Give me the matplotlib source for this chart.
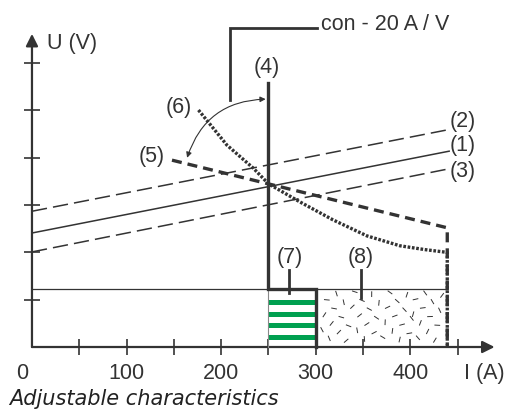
import numpy as np
import matplotlib
matplotlib.use('Agg')
import matplotlib.pyplot as plt

plt.rcParams['font.family'] = ['Liberation Sans', 'DejaVu Sans']

# characteristic lines (current A, voltage in tick units)
line1_x = [0, 441]
line1_y = [2.41, 4.14]
line2_x = [0, 439]
line2_y = [2.87, 4.59]
line3_x = [0, 439]
line3_y = [2.01, 3.76]
line5_x = [148, 439]
line5_y = [3.95, 2.52]
curve6_x = [176, 206, 234, 250, 283, 318, 354, 389, 415, 439]
curve6_y = [5.01, 4.27, 3.78, 3.45, 3.07, 2.69, 2.35, 2.14, 2.06, 2.00]
i_limit = 250      # (4)
i_box_end = 300    # (7)
i_max = 439        # right edge
u_low = 1.23       # thin horizontal
u_line4_top = 5.58
stripes = [0.20, 0.46, 0.69, 0.95]
xticks = [50, 100, 150, 200, 250, 300, 350, 400, 450]
xlabels = [100, 200, 300, 400]
yticks = [1, 2, 3, 4, 5, 6]

dark = '#333333'
green = '#00a050'
fs = 15.5

fig = plt.figure(figsize=(5.08, 4.19), dpi=100)
ax = fig.add_axes([0, 0, 1, 1])
ax.set_xlim(-33.8, 503.2)
ax.set_ylim(-1.522, 7.336)
ax.axis('off')

# axes
ax.annotate('', xy=(489, 0), xytext=(0, 0),
            arrowprops=dict(arrowstyle='-|>', color=dark, lw=1.6, mutation_scale=18,
                            shrinkA=0, shrinkB=0))
ax.annotate('', xy=(0, 6.62), xytext=(0, 0),
            arrowprops=dict(arrowstyle='-|>', color=dark, lw=1.6, mutation_scale=18,
                            shrinkA=0, shrinkB=0))
ax.plot(xticks, [0] * len(xticks), ls='none', marker='|', ms=11, mew=1.2, color=dark)
ax.plot([0] * len(yticks), yticks, ls='none', marker='_', ms=11, mew=1.2, color=dark)
for v in xlabels:
    ax.text(v, -0.55, str(v), ha='center', va='center', fontsize=fs, color=dark)
ax.text(-10, -0.55, '0', ha='center', va='center', fontsize=fs, color=dark)
ax.text(457, -0.55, 'I (A)', ha='left', va='center', fontsize=fs, color=dark)
ax.text(16, 6.41, 'U (V)', ha='left', va='center', fontsize=fs, color=dark)
ax.text(-24, -1.09, 'Adjustable characteristics', ha='left', va='center',
        fontsize=15, style='italic', family=['DejaVu Sans'], color='#222222')

# region (8) texture
ax.fill_between([i_box_end, i_max], 0, u_low, color='white', zorder=1)
n = 50
k = np.arange(1, n + 1)
tx = i_box_end + 4 + ((k * 0.7548776662) % 1) * (i_max - i_box_end - 8)
ty = 0.05 + ((k * 0.5698402910) % 1) * (u_low - 0.10)
ta = ((k * 0.41421356) % 1) * np.pi
for x0, y0, a in zip(tx, ty, ta):
    dx = 2.5 * np.cos(a)
    dy = 0.05 * np.sin(a)
    ax.plot([x0 - dx, x0 + dx], [y0 - dy, y0 + dy], color=dark, lw=0.7, zorder=2)

# box (7)
for s in stripes:
    ax.fill_between([i_limit, i_box_end], s - 0.053, s + 0.053, color=green, lw=0, zorder=2)
ax.plot([i_limit, i_limit], [0, u_low], color='#888888', lw=0.8, zorder=3)

# thin horizontal
ax.plot([0, i_max], [u_low, u_low], color=dark, lw=0.9, zorder=3)
# box border + (4)
ax.plot([i_limit, i_limit, i_box_end, i_box_end], [u_line4_top, u_low, u_low, 0],
        color=dark, lw=2.4, zorder=4, solid_joinstyle='miter')

# characteristic lines
ax.plot(line1_x, line1_y, color=dark, lw=1.1, zorder=3)
ax.plot(line2_x, line2_y, color=dark, lw=1.1, ls=(0, (10, 4)), zorder=3)
ax.plot(line3_x, line3_y, color=dark, lw=1.1, ls=(0, (10, 4)), zorder=3)
ax.plot(line5_x + [line5_x[-1]], line5_y + [0], color=dark, lw=2.4, ls=(0, (3, 1.8)), zorder=3)
ax.plot(curve6_x + [curve6_x[-1]], curve6_y + [0], color=dark, lw=2.4, ls=(0, (0.8, 0.5)), zorder=3)

# labels
ax.text(441, 4.76, '(2)', ha='left', va='center', fontsize=fs, color=dark)
ax.text(441, 4.25, '(1)', ha='left', va='center', fontsize=fs, color=dark)
ax.text(441, 3.70, '(3)', ha='left', va='center', fontsize=fs, color=dark)
ax.text(248, 5.9, '(4)', ha='center', va='center', fontsize=fs, color=dark)
ax.text(127, 4.02, '(5)', ha='center', va='center', fontsize=fs, color=dark)
ax.text(155, 5.07, '(6)', ha='center', va='center', fontsize=fs, color=dark)
ax.text(272, 1.90, '(7)', ha='center', va='center', fontsize=fs, color=dark)
ax.text(348, 1.90, '(8)', ha='center', va='center', fontsize=fs, color=dark)
ax.plot([272, 272], [1.63, 1.15], color=dark, lw=2.0, zorder=5)
ax.plot([348, 348], [1.63, 1.04], color=dark, lw=2.0, zorder=5)

# con bracket
ax.plot([209, 209, 301], [5.22, 6.74, 6.74], color=dark, lw=2.0, solid_joinstyle='miter')
ax.text(305, 6.81, 'con - 20 A / V', ha='left', va='center', fontsize=fs, color=dark)
ax.annotate('', xy=(164, 4.0), xytext=(247, 5.24),
            arrowprops=dict(arrowstyle='<|-|>', color=dark, lw=0.8, mutation_scale=8,
                            connectionstyle='arc3,rad=0.35', shrinkA=0, shrinkB=0))

fig.savefig('out.png', dpi=100)
